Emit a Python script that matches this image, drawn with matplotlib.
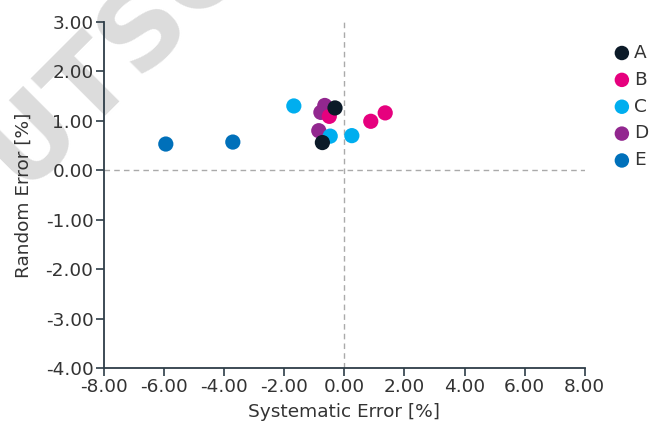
import matplotlib
matplotlib.use("Agg")
import matplotlib.pyplot as plt

# Systematic vs. random error per group
groups = ["A", "B", "C", "D", "E"]
colors = {"A": "#0b1a28", "B": "#e6007e", "C": "#00aeef", "D": "#92278f", "E": "#0070ba"}
sys_err = {
    "A": [-0.31, -0.73],
    "B": [0.88, 1.36, -0.50],
    "C": [-1.68, -0.47, 0.25],
    "D": [-0.65, -0.78, -0.85],
    "E": [-5.94, -3.71],
}
rand_err = {
    "A": [1.26, 0.56],
    "B": [0.99, 1.16, 1.09],
    "C": [1.30, 0.69, 0.70],
    "D": [1.31, 1.17, 0.80],
    "E": [0.53, 0.57],
}
x_ticks = [-8, -6, -4, -2, 0, 2, 4, 6, 8]
y_ticks = [-4, -3, -2, -1, 0, 1, 2, 3]

plt.rcParams["font.family"] = ["DejaVu Sans"]
text_color = "#333333"
spine_color = "#2e3d48"
fs = 13.3

fig = plt.figure(figsize=(6.66, 4.29), dpi=100)
ax = fig.add_axes([0.156, 0.142, 0.722, 0.807])
ax.set_zorder(2)
ax.patch.set_alpha(0)

# faint watermark behind the plot
fig.text(0.17, 0.87, "UTSC", fontsize=78, fontweight="bold", color="#dcdcdc",
         rotation=45, ha="center", va="center", zorder=0)

ax.axhline(0, color="#aaaaaa", lw=1, ls=(0, (4, 3)), zorder=1)
ax.axvline(0, color="#aaaaaa", lw=1, ls=(0, (4, 3)), zorder=1)

order = ["E", "D", "C", "B", "A"]
for g in order:
    ax.scatter(sys_err[g], rand_err[g], s=120, color=colors[g], edgecolors="none",
               zorder=3, label=g)

ax.set_xlim(-8, 8)
ax.set_ylim(-4, 3)
ax.set_xticks(x_ticks)
ax.set_yticks(y_ticks)
ax.set_xticklabels([f"{v:.2f}" for v in x_ticks])
ax.set_yticklabels([f"{v:.2f}" for v in y_ticks])
for s in ["top", "right"]:
    ax.spines[s].set_visible(False)
for s in ["left", "bottom"]:
    ax.spines[s].set_color(spine_color)
    ax.spines[s].set_linewidth(1.3)
ax.tick_params(axis="both", colors=spine_color, labelcolor=text_color,
               labelsize=fs, length=6, width=1.2, pad=1.5)
ax.set_xlabel("Systematic Error [%]", fontsize=fs, color=text_color, labelpad=5)
ax.set_ylabel("Random Error [%]", fontsize=fs, color=text_color, labelpad=9)

handles, labels = ax.get_legend_handles_labels()
hmap = dict(zip(labels, handles))
leg = fig.legend([hmap[g] for g in groups], groups, loc="upper left",
                 bbox_to_anchor=(0.906, 0.915), frameon=False, fontsize=fs,
                 handletextpad=0.05, labelspacing=0.48, markerscale=0.95,
                 borderaxespad=0, handlelength=1.2)
for t in leg.get_texts():
    t.set_color(text_color)

fig.savefig("out.png", dpi=100)
